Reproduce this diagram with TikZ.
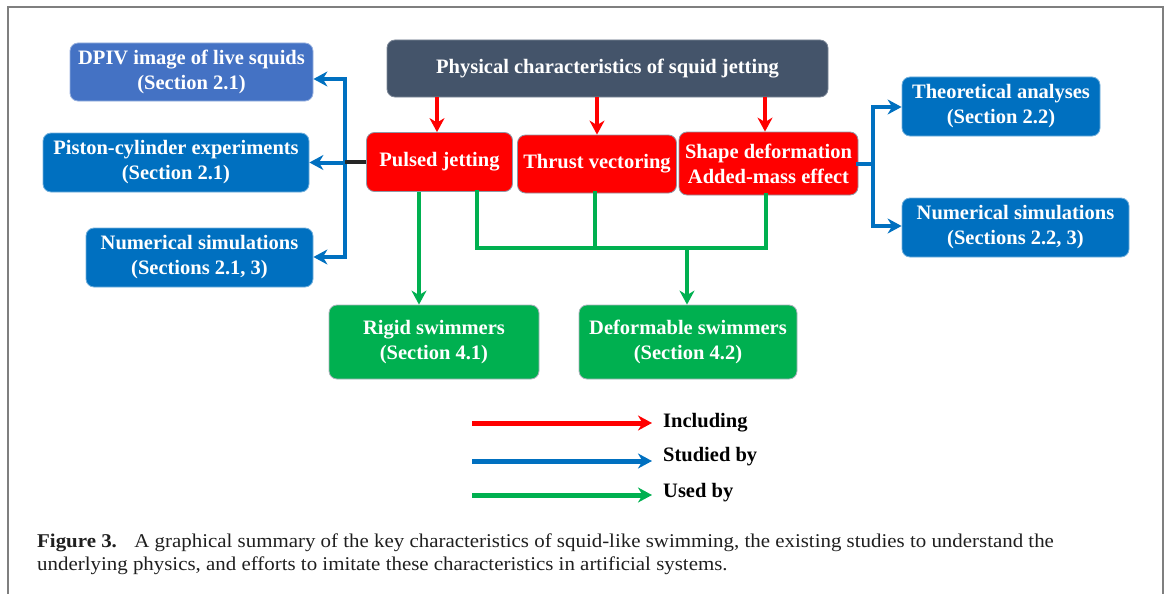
\documentclass[tikz,border=0pt]{standalone}
\usepackage{fontspec}
\setmainfont{Liberation Serif}
\usetikzlibrary{arrows.meta}

\definecolor{slate}{HTML}{44546A}
\definecolor{inclred}{HTML}{FF0000}
\definecolor{studblue}{HTML}{0070C0}
\definecolor{dpivblue}{HTML}{4472C4}
\definecolor{usedgreen}{HTML}{00B050}
\definecolor{framegray}{HTML}{7F7F7F}

\newcommand{\boxfont}{\bfseries\fontsize{20.5}{25}\selectfont}
\newcommand{\capfont}{\fontsize{19.5}{23}\selectfont}
\newcommand{\capline}[1]{\scalebox{1.072}[1]{#1}}

\tikzset{
  charbox/.style={rounded corners=8pt, draw, line width=0.8pt, text=white, align=center, inner sep=0pt, font=\boxfont},
  topbox/.style={charbox, fill=slate, draw=slate!70!white},
  redbox/.style={charbox, fill=inclred, draw=slate!60!white},
  bluebox/.style={charbox, fill=studblue, draw=studblue!55!white},
  greenbox/.style={charbox, fill=usedgreen, draw=slate!45!white},
  headtip/.style={-{Stealth[length=14pt,width=15pt,inset=4.5pt]}},
  includingline/.style={draw=inclred, line width=4.5pt},
  studiedline/.style={draw=studblue, line width=4pt, line cap=rect},
  usedline/.style={draw=usedgreen, line width=4pt, line cap=rect},
  including/.style={includingline, line cap=butt, headtip},
  studied/.style={studiedline, line cap=butt, headtip},
  used/.style={usedline, line cap=butt, headtip},
  legendtext/.style={anchor=west, inner sep=0pt, font=\boxfont, text=black}
}

\begin{document}
\begin{tikzpicture}[x=1pt,y=-1pt]
\useasboundingbox (0,0) rectangle (1170,594);
\draw[framegray, line width=2pt] (8,594) -- (8,7) -- (1163,7) -- (1163,594);

\path
(607.5,68.5) node[topbox, minimum width=441, minimum height=57] (phys) {Physical characteristics of squid jetting}
(439.5,162) node[redbox, minimum width=146, minimum height=59] (pulsed) {Pulsed jetting}
(597,164) node[redbox, minimum width=159, minimum height=58] (thrust) {Thrust vectoring}
(768.5,163.5) node[redbox, minimum width=179, minimum height=63] (shape) {Shape deformation\\Added-mass effect}
(191.5,72) node[charbox, fill=dpivblue, draw=dpivblue!55!white, minimum width=243, minimum height=58] (dpiv) {DPIV image of live squids\\(Section 2.1)}
(176,162.5) node[bluebox, minimum width=266, minimum height=59] (piston) {Piston-cylinder experiments\\(Section 2.1)}
(199.5,257.5) node[bluebox, minimum width=227, minimum height=59] (numl) {Numerical simulations\\(Sections 2.1, 3)}
(1001,106.5) node[bluebox, minimum width=198, minimum height=59] (theo) {Theoretical analyses\\(Section 2.2)}
(1015.5,227.5) node[bluebox, minimum width=227, minimum height=59] (numr) {Numerical simulations\\(Sections 2.2, 3)}
(434,342) node[greenbox, minimum width=210, minimum height=74] (rigid) {Rigid swimmers\\(Section 4.1)}
(688,342) node[greenbox, minimum width=218, minimum height=74] (deform) {Deformable swimmers\\(Section 4.2)};

% including
\draw[including] (phys.south -| 437,0) -- (pulsed.north -| 437,0);
\draw[including] (phys.south -| thrust.north) -- (thrust.north);
\draw[including] (phys.south -| 765,0) -- (shape.north -| 765,0);

% studied by (left)
\coordinate (ltop) at (345,79);
\coordinate (lbot) at (345,257);
\draw[studiedline] (ltop) -- (lbot);
\draw[studied] (ltop) -- (dpiv.east |- ltop);
\draw[studied] (ltop |- piston.east) -- (piston.east);
\draw[studied] (lbot) -- (numl.east |- lbot);
\draw[black!85, line width=4pt] (pulsed.west) -- (ltop |- pulsed.west);

% studied by (right)
\coordinate (rtop) at (873,107);
\coordinate (rbot) at (873,226);
\draw[studiedline] (rtop) -- (rbot);
\draw[studiedline] (shape.east) -- (shape.east -| rtop);
\draw[studied] (rtop) -- (theo.west |- rtop);
\draw[studied] (rbot) -- (numr.west |- rbot);

% used by
\coordinate (gbusl) at (477,248);
\coordinate (gbusr) at (766,248);
\coordinate (rarr) at (419,0);
\draw[usedline] (pulsed.south -| gbusl) -- (gbusl) -- (gbusr) -- (shape.south -| gbusr);
\draw[usedline] (thrust.south -| 595,0) -- (gbusl -| 595,0);
\draw[used] (pulsed.south -| rarr) -- (rigid.north -| rarr);
\draw[used] (gbusl -| 687,0) -- (deform.north -| 687,0);

% legend
\path
(663,423) node[legendtext] (incl-lab) {Including}
(663,457) node[legendtext] (stud-lab) {Studied by}
(663,493) node[legendtext] (used-lab) {Used by};
\coordinate (incl-start) at (472,423);
\coordinate (stud-start) at (472,461);
\coordinate (used-start) at (472,495);
\draw[including, line width=5pt, shorten >=11pt] (incl-start) -- (incl-lab.west |- incl-start);
\draw[studied, line width=5pt, shorten >=11pt] (stud-start) -- (stud-lab.west |- stud-start);
\draw[used, line width=5pt, shorten >=11pt] (used-start) -- (used-lab.west |- used-start);

% caption
\path
(37,547) node[anchor=base west, inner sep=0pt, font=\capfont, text=black!88] (cap1) {\capline{\textbf{Figure 3.}\hspace{0.5em} A graphical summary of the key characteristics of squid-like swimming, the existing studies to understand the}}
(37,570) node[anchor=base west, inner sep=0pt, font=\capfont, text=black!88] (cap2) {\capline{underlying physics, and efforts to imitate these characteristics in artificial systems.}};
\end{tikzpicture}
\end{document}
